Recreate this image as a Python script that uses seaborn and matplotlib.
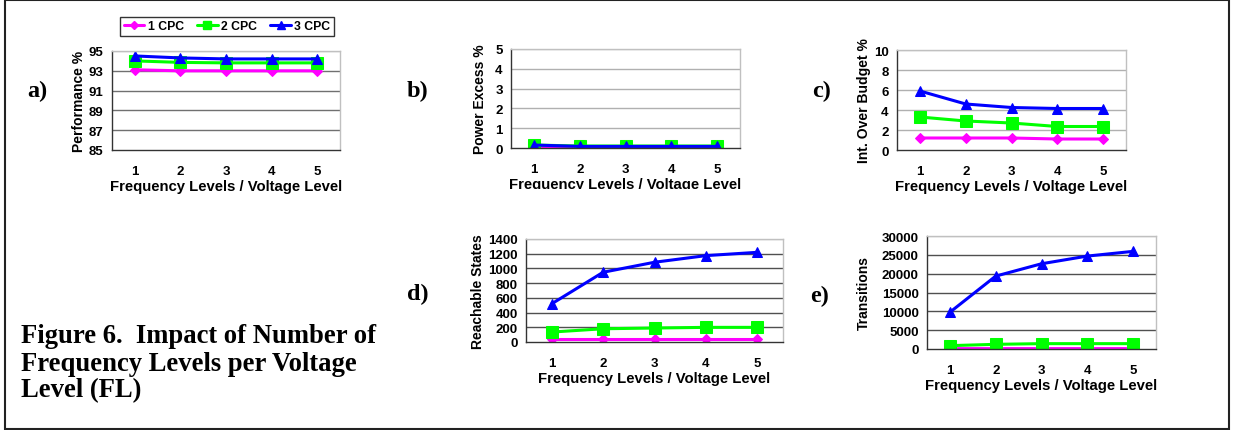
import numpy as np
import pandas as pd
import seaborn as sns
import matplotlib
matplotlib.use("Agg")
import matplotlib.pyplot as plt
from matplotlib.patches import Rectangle
from matplotlib.lines import Line2D
from matplotlib.transforms import Bbox

sns.set_theme(style="white")
plt.rcParams['font.family'] = ['Liberation Sans', 'DejaVu Sans']
plt.rcParams['text.color'] = 'black'
plt.rcParams['axes.labelcolor'] = 'black'
plt.rcParams['xtick.color'] = 'black'
plt.rcParams['ytick.color'] = 'black'

levels = [1, 2, 3, 4, 5]
series_names = ["1 CPC", "2 CPC", "3 CPC"]

perf_1 = [93.1, 93.0, 93.0, 93.0, 93.0]
perf_2 = [94.0, 93.85, 93.8, 93.8, 93.8]
perf_3 = [94.5, 94.3, 94.2, 94.2, 94.2]

pow_1 = [0.05, 0.05, 0.05, 0.05, 0.05]
pow_2 = [0.15, 0.1, 0.1, 0.1, 0.1]
pow_3 = [0.15, 0.08, 0.08, 0.08, 0.08]

iob_1 = [1.2, 1.2, 1.2, 1.1, 1.1]
iob_2 = [3.3, 2.9, 2.7, 2.35, 2.35]
iob_3 = [5.9, 4.6, 4.25, 4.15, 4.15]

rs_1 = [35, 35, 35, 35, 35]
rs_2 = [135, 180, 190, 199, 199]
rs_3 = [519, 948, 1084, 1174, 1219]

tr_1 = [100, 110, 110, 110, 110]
tr_2 = [890, 1240, 1420, 1420, 1420]
tr_3 = [9760, 19350, 22630, 24670, 25920]

colors = ["#FF00FF", "#00FF00", "#0000FF"]
markers = ["D", "s", "^"]
msizes = [5.5, 8, 7.5]

W, H = 1233, 431
fig = plt.figure(figsize=(W / 100, H / 100), dpi=100)

def fx(px):
    return px / W

def fy(py):
    return 1 - py / H

def make_ax(l, t, r, b):
    return fig.add_axes([fx(l), fy(b), fx(r - l), (b - t) / H])

panels = [
    dict(box=(112, 52, 340, 151), data=[perf_1, perf_2, perf_3], ylim=(85, 95), yt=[85, 87, 89, 91, 93, 95],
         ylabel="Performance %", grid="#707070", lp=2, clip=None),
    dict(box=(511, 50, 740, 149), data=[pow_1, pow_2, pow_3], ylim=(0, 5), yt=[0, 1, 2, 3, 4, 5],
         ylabel="Power Excess %", grid="#b0b0b0", lp=6, clip=190),
    dict(box=(897, 51, 1126, 151), data=[iob_1, iob_2, iob_3], ylim=(0, 10), yt=[0, 2, 4, 6, 8, 10],
         ylabel="Int. Over Budget %", grid="#b0b0b0", lp=2, clip=None),
    dict(box=(526, 240, 783, 343), data=[rs_1, rs_2, rs_3], ylim=(0, 1400), yt=list(range(0, 1401, 200)),
         ylabel="Reachable States", grid="#505050", lp=2, clip=None),
    dict(box=(927, 237, 1156, 350), data=[tr_1, tr_2, tr_3], ylim=(0, 30000), yt=list(range(0, 30001, 5000)),
         ylabel="Transitions", grid="#505050", lp=8, clip=None),
]

for p in panels:
    ax = make_ax(*p["box"])
    for name, vals, c, m, ms in zip(series_names, p["data"], colors, markers, msizes):
        df = pd.DataFrame({"fl": levels, "val": vals})
        sns.lineplot(data=df, x="fl", y="val", ax=ax, color=c, marker=m, markersize=ms,
                     markeredgecolor=c, linewidth=2.2, legend=False)
    ax.set_xlim(0.5, 5.5)
    ax.set_ylim(*p["ylim"])
    ax.set_yticks(p["yt"])
    ax.set_xticks(levels)
    ax.set_xticks(np.arange(0.5, 5.6, 1.0), minor=True)
    ax.tick_params(axis="x", which="major", length=0, pad=11, labelsize=9.5)
    ax.tick_params(axis="x", which="minor", length=4, width=1, color="#333333", direction="out")
    ax.tick_params(axis="y", length=3, width=1, color="#333333", direction="out", pad=3, labelsize=9.5)
    for lab in ax.get_xticklabels() + ax.get_yticklabels():
        lab.set_fontweight("bold")
    xl = ax.set_xlabel("Frequency Levels / Voltage Level", fontsize=10.7, fontweight="bold", labelpad=1)
    ax.set_ylabel(p["ylabel"], fontsize=10, fontweight="bold", labelpad=p["lp"])
    if p["clip"] is not None:
        xl.set_clip_box(Bbox.from_extents(0, H - p["clip"], W, H))
        xl.set_clip_on(True)
    for yv in p["yt"][1:-1]:
        ax.axhline(yv, color=p["grid"], lw=1, zorder=0)
    ax.axhline(p["yt"][-1], color="#c0c0c0", lw=1, zorder=0)
    ax.spines["top"].set_color("#c0c0c0")
    ax.spines["right"].set_color("#c0c0c0")
    ax.spines["left"].set_color("#333333")
    ax.spines["bottom"].set_color("#333333")
    for s in ax.spines.values():
        s.set_linewidth(1)
    ax.set_facecolor("white")

# legend
handles = [Line2D([0], [0], color=c, marker=m, markersize=ms * 0.8, lw=2.2, markeredgecolor=c)
           for c, m, ms in zip(colors, markers, msizes)]
leg = fig.legend(handles, series_names, loc="center", bbox_to_anchor=(fx(227), fy(27.5)), ncol=3,
                 frameon=True, fancybox=False, edgecolor="black", handlelength=1.7,
                 handletextpad=0.25, columnspacing=1.1, borderpad=0.3, prop={"weight": "bold", "size": 8.8})
leg.get_frame().set_linewidth(1)

# panel letters
serif = ['Liberation Serif', 'DejaVu Serif']
for lab, x, y in [("a)", 27, 97), ("b)", 407, 97), ("c)", 812, 97), ("d)", 407, 300), ("e)", 810, 302)]:
    fig.text(fx(x), fy(y), lab, family=serif, fontweight="bold", fontsize=17.5, va="baseline", ha="left",
             color="black")

# caption
for line, y in [("Figure 6.  Impact of Number of", 343), ("Frequency Levels per Voltage", 371),
                ("Level (FL)", 397)]:
    fig.text(fx(21), fy(y), line, family=serif, fontweight="bold", fontsize=19.2, va="baseline", ha="left",
             color="black")

# outer border
fig.patches.append(Rectangle((fx(4.5), fy(429.5)), fx(1229 - 4.5), (429.5 - 0.5) / H, transform=fig.transFigure,
                             fill=False, edgecolor="#222222", lw=1.5))

fig.savefig("out.png", dpi=100, facecolor="white")
